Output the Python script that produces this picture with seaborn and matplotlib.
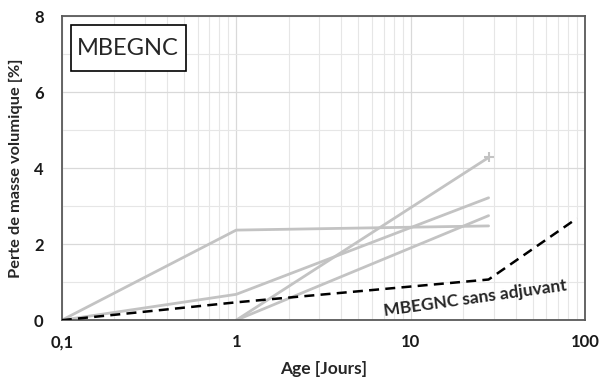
import pandas as pd
import matplotlib
matplotlib.use('Agg')
import matplotlib.pyplot as plt
import seaborn as sns
from matplotlib.patches import Rectangle
from matplotlib.ticker import FixedLocator, LogLocator, NullFormatter

# age in days and mass loss in % for each mix
AGE_A = [0.1, 1, 28]
LOSS_A = [0, 2.37, 2.48]
AGE_B = [0.1, 1, 28]
LOSS_B = [0, 0.68, 3.22]
AGE_C = [1, 28]
LOSS_C = [0, 4.28]
AGE_D = [1, 28]
LOSS_D = [0, 2.75]
AGE_REF = [0.1, 1, 28, 90]
LOSS_REF = [0, 0.47, 1.07, 2.68]

X_TICKS = [0.1, 1, 10, 100]
X_LABELS = ['0,1', '1', '10', '100']
Y_TICKS = [0, 2, 4, 6, 8]

GRAY = '#c3c3c3'


def draw():
    sns.set_style("white")
    plt.rcParams['font.family'] = ['Lato', 'DejaVu Sans']
    fig = plt.figure(figsize=(6, 3.83), dpi=100)
    ax = fig.add_axes([0.103, 0.164, 0.872, 0.794])

    for age, loss in [(AGE_A, LOSS_A), (AGE_B, LOSS_B), (AGE_C, LOSS_C), (AGE_D, LOSS_D)]:
        sns.lineplot(x=age, y=loss, ax=ax, color=GRAY, linewidth=2, sort=False)
    # end marker on the steepest series
    sns.scatterplot(x=AGE_C[-1:], y=LOSS_C[-1:], ax=ax, marker='+', color=GRAY,
                    s=60, linewidth=1.5, zorder=3)
    sns.lineplot(x=AGE_REF, y=LOSS_REF, ax=ax, color='black', linewidth=1.8,
                 linestyle=(0, (4, 2.5)), sort=False, zorder=4)

    ax.set_xscale('log')
    ax.set_xlim(0.1, 100)
    ax.set_ylim(0, 8)
    ax.xaxis.set_major_locator(FixedLocator(X_TICKS))
    ax.set_xticklabels(X_LABELS)
    ax.xaxis.set_minor_locator(LogLocator(base=10, subs=range(2, 10)))
    ax.xaxis.set_minor_formatter(NullFormatter())
    ax.set_yticks(Y_TICKS)
    ax.yaxis.set_minor_locator(FixedLocator([1, 3, 5, 7]))

    ax.grid(which='major', color='#d9d9d9', linewidth=0.9)
    ax.grid(which='minor', color='#e6e6e6', linewidth=0.8)
    ax.set_axisbelow(True)
    ax.tick_params(axis='y', which='both', length=0, pad=13)
    ax.tick_params(axis='x', which='both', length=0, pad=10)
    for lab in ax.get_xticklabels() + ax.get_yticklabels():
        lab.set_fontweight('bold')
        lab.set_fontsize(12)
        lab.set_color('#1a1a1a')
    for side in ['top', 'right', 'bottom', 'left']:
        ax.spines[side].set_color('#595959')
        ax.spines[side].set_linewidth(1.3)

    ax.set_xlabel("Age [Jours]", fontsize=12.5, fontweight='bold', labelpad=8)
    ax.set_ylabel("Perte de masse volumique [%]", fontsize=11.8, fontweight='bold', labelpad=8)

    ax.add_patch(Rectangle((0.0172, 0.819), 0.22, 0.151, transform=ax.transAxes,
                           facecolor='white', edgecolor='black', linewidth=1.2, zorder=5))
    ax.text(0.127, 0.893, "MBEGNC", fontsize=17, va='center', ha='center',
            transform=ax.transAxes, zorder=6)
    ax.text(23.5, 0.58, "MBEGNC sans adjuvant", fontsize=12.5, fontweight='bold',
            rotation=8, ha='center', va='center')

    plt.savefig("out.png", dpi=100)


if __name__ == "__main__":
    draw()
